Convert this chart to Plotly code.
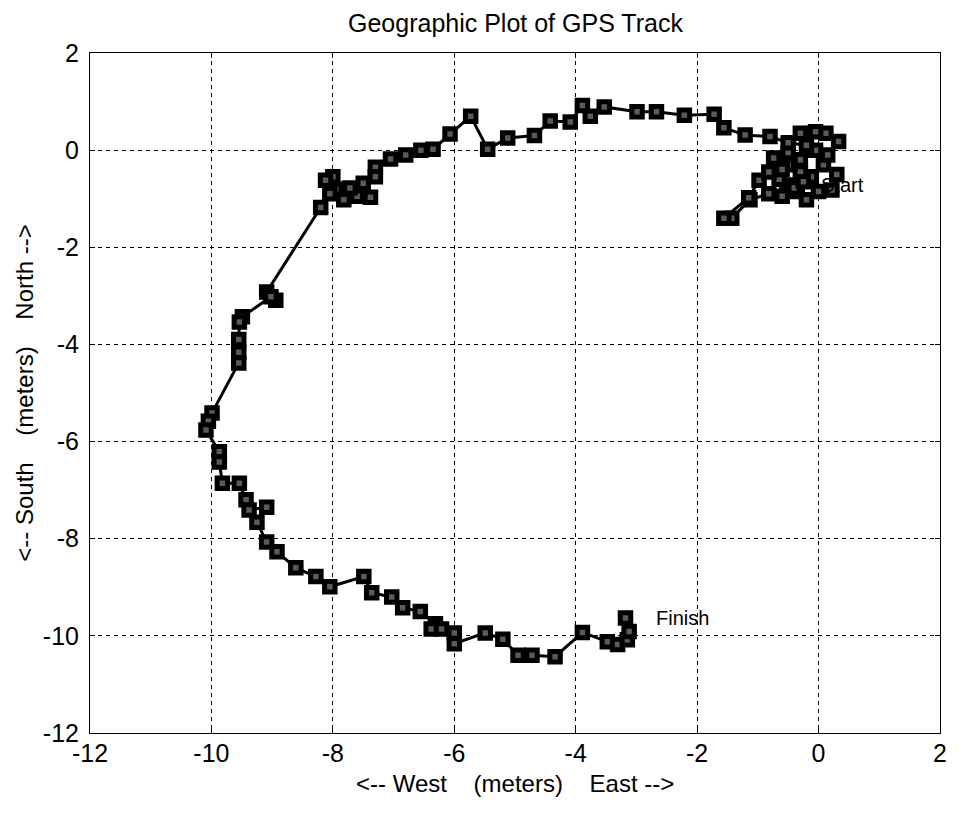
import plotly.graph_objects as go

# GPS track, metres east / north of the reference point
EAST = [
    -0.47, -0.35, -0.20, 0.00, 0.22, 0.30, 0.08, -0.12, -0.30, -0.50,
    -0.65, -0.60, -0.40, -0.25, -0.82, -1.13, -1.43, -1.56, -1.15, -0.98,
    -0.82, -0.60, -0.74, -0.50, -0.30, -0.05, 0.15, 0.33, 0.12, -0.05,
    -0.30, -0.20, -0.50, -0.80, -1.21, -1.56, -1.72, -2.21, -2.67, -2.99,
    -3.53, -3.76, -3.89, -4.09, -4.42, -4.68, -5.12, -5.45, -5.73, -6.07,
    -6.35, -6.55, -6.80, -7.05, -7.30, -7.30, -7.50, -7.38, -7.60, -7.72,
    -7.82, -7.95, -8.00, -8.12, -8.05, -8.20, -9.09, -8.94, -9.02, -9.49,
    -9.54, -9.55, -9.55, -9.55, -9.99, -10.05, -10.09, -9.87, -9.87, -9.82,
    -9.54, -9.43, -9.38, -9.09, -9.25, -9.09, -8.92, -8.61, -8.28, -8.05,
    -7.49, -7.36, -7.03, -6.85, -6.56, -6.31, -6.38, -6.21, -6.00, -6.00,
    -5.49, -5.20, -4.95, -4.72, -4.34, -3.89, -3.48, -3.31, -3.15, -3.12,
    -3.18,
]
NORTH = [
    -0.72, -0.85, -1.02, -0.85, -0.82, -0.50, -0.30, -0.55, -0.45, -0.30,
    -0.60, -0.95, -0.78, -0.65, -0.90, -1.02, -1.40, -1.40, -0.98, -0.62,
    -0.45, -0.40, -0.16, -0.05, -0.20, 0.00, -0.10, 0.18, 0.35, 0.38,
    0.35, 0.10, 0.15, 0.28, 0.31, 0.46, 0.74, 0.72, 0.79, 0.79,
    0.89, 0.70, 0.92, 0.58, 0.60, 0.30, 0.25, 0.02, 0.70, 0.33,
    0.02, 0.00, -0.10, -0.18, -0.35, -0.55, -0.68, -0.97, -0.95, -0.78,
    -1.02, -0.80, -0.55, -0.62, -0.90, -1.18, -2.92, -3.09, -3.02, -3.43,
    -3.54, -3.90, -4.16, -4.38, -5.41, -5.58, -5.76, -6.21, -6.42, -6.86,
    -6.86, -7.20, -7.41, -7.35, -7.66, -8.07, -8.27, -8.60, -8.78, -8.99,
    -8.78, -9.11, -9.20, -9.42, -9.50, -9.75, -9.86, -9.86, -9.94, -10.16,
    -9.94, -10.07, -10.40, -10.40, -10.43, -9.93, -10.12, -10.18, -10.08, -9.91,
    -9.63,
]

X_TICKS = [-12, -10, -8, -6, -4, -2, 0, 2]
Y_TICKS = [2, 0, -2, -4, -6, -8, -10, -12]

INK = "#000000"
FONT = "Liberation Sans, Arial, Helvetica, sans-serif"
GAP = "\u00a0" * 4

fig = go.Figure(
    go.Scatter(
        x=EAST,
        y=NORTH,
        mode="lines+markers",
        line={"color": INK, "width": 3},
        marker={
            "symbol": "square",
            "size": 10.5,
            "color": "#5a5a5a",
            "line": {"color": INK, "width": 5},
        },
        hoverinfo="skip",
    )
)

fig.add_annotation(x=EAST[0] + 0.47, y=NORTH[0], text="Start", xanchor="left",
                   showarrow=False, font={"size": 20, "color": INK})
fig.add_annotation(x=EAST[-1] + 0.47, y=NORTH[-1], text="Finish", xanchor="left",
                   showarrow=False, font={"size": 20, "color": INK})

axis = dict(
    showline=True,
    linecolor=INK,
    linewidth=1,
    mirror="ticks",
    ticks="inside",
    ticklen=5,
    tickcolor=INK,
    showgrid=True,
    gridcolor=INK,
    gridwidth=1,
    griddash="4px,4px",
    zeroline=False,
    tickfont={"size": 25, "color": INK},
)

fig.update_xaxes(range=[-12, 2], tickvals=X_TICKS,
                 ticktext=[str(v) for v in X_TICKS], ticklabelstandoff=-2, **axis)
fig.update_yaxes(range=[-12, 2], tickvals=Y_TICKS,
                 ticktext=[str(v) for v in Y_TICKS], ticklabelstandoff=5, **axis)

fig.add_annotation(xref="paper", yref="paper", x=0.5, y=1.044, yanchor="middle",
                   text="Geographic Plot of GPS Track", showarrow=False,
                   font={"size": 25, "color": INK})
fig.add_annotation(xref="paper", yref="paper", x=0.5, y=-0.074, yanchor="middle",
                   text=f"&lt;-- West{GAP}(meters){GAP}East -->",
                   showarrow=False, font={"size": 24, "color": INK})
fig.add_annotation(xref="paper", yref="paper", x=-0.078, y=0.5,
                   xanchor="center", yanchor="middle", textangle=-90,
                   text=f"&lt;-- South{GAP}(meters){GAP}North -->",
                   showarrow=False, font={"size": 24, "color": INK})

fig.update_layout(
    width=959,
    height=814,
    margin={"l": 90, "r": 14, "t": 53, "b": 81},
    paper_bgcolor="white",
    plot_bgcolor="white",
    showlegend=False,
    font={"family": FONT, "color": INK},
)

fig.write_html(
    "out.html",
    config={"displayModeBar": False},
    post_script="document.body.style.margin = '0px';",
)
